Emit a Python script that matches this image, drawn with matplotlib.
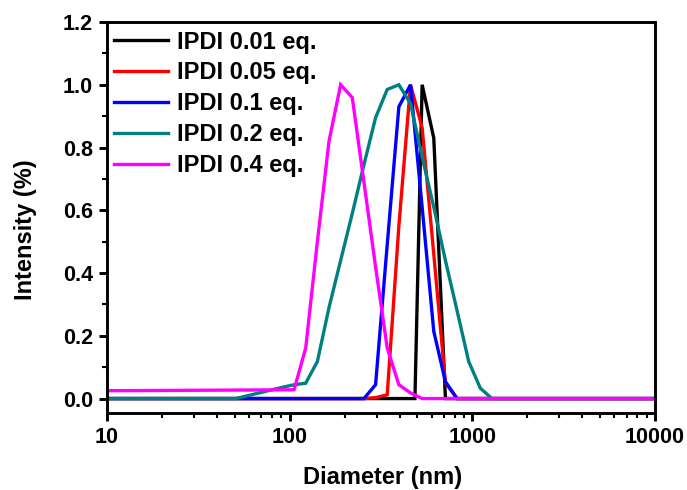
import matplotlib
matplotlib.use("Agg")
import matplotlib.pyplot as plt
from matplotlib.ticker import LogLocator, NullFormatter, MultipleLocator, FixedLocator, FixedFormatter

# ---- data ----
labels = ["IPDI 0.01 eq.", "IPDI 0.05 eq.", "IPDI 0.1 eq.", "IPDI 0.2 eq.", "IPDI 0.4 eq."]
colors = ["#000000", "#ff0000", "#0000ff", "#008080", "#ff00ff"]

x_001 = [10, 485, 531.2, 615.1, 712.4, 10000]
y_001 = [0, 0, 1.0, 0.83, 0, 0]

x_005 = [10, 255.0, 295.3, 342.0, 396.1, 458.7, 531.2, 615.1, 712.4, 825.0, 10000]
y_005 = [0, 0, 0.003, 0.012, 0.55, 1.0, 0.863, 0.46, 0.05, 0, 0]

x_01 = [10, 255.0, 295.3, 342.0, 396.1, 458.7, 531.2, 615.1, 712.4, 825.0, 10000]
y_01 = [0, 0, 0.044, 0.49, 0.93, 1.0, 0.61, 0.214, 0.054, 0, 0]

x_02 = [10, 50.75, 58.77, 68.06, 78.82, 91.28, 105.7, 122.4, 141.8, 164.2, 190.1,
        220.2, 255.0, 295.3, 342.0, 396.1, 458.7, 531.2, 615.1, 712.4, 825.0,
        955.4, 1106, 1281, 10000]
y_02 = [0, 0, 0.009, 0.018, 0.027, 0.036, 0.044, 0.049, 0.118, 0.29, 0.44,
        0.59, 0.745, 0.895, 0.985, 1.0, 0.94, 0.77, 0.61, 0.44, 0.28,
        0.118, 0.033, 0, 0]

x_04 = [10, 105.7, 122.4, 141.8, 164.2, 190.1, 220.2, 255.0, 295.3, 342.0,
        396.1, 458.7, 531.2, 10000]
y_04 = [0.025, 0.028, 0.161, 0.5, 0.82, 1.0, 0.959, 0.69, 0.42, 0.161,
        0.044, 0.018, 0, 0]

xs = [x_001, x_005, x_01, x_02, x_04]
ys = [y_001, y_005, y_01, y_02, y_04]

x_ticks = [10, 100, 1000, 10000]
x_ticklabels = ["10", "100", "1000", "10000"]
y_ticks = [0.0, 0.2, 0.4, 0.6, 0.8, 1.0, 1.2]
y_ticklabels = ["0.0", "0.2", "0.4", "0.6", "0.8", "1.0", "1.2"]

# ---- style ----
plt.rcParams['font.family'] = ['Liberation Sans', 'DejaVu Sans']
plt.rcParams['font.weight'] = 'bold'

fig = plt.figure(figsize=(6.87, 4.9), dpi=100)
ax = fig.add_axes([107/687, 1-413/490, (655-107)/687, (413-22)/490])

for x, y, c, lab in zip(xs, ys, colors, labels):
    ax.plot(x, y, color=c, lw=2.4, label=lab, solid_joinstyle='miter')

ax.set_xscale('log')
ax.set_xlim(10, 10000)
ax.set_ylim(-0.046, 1.2)

ax.xaxis.set_major_locator(FixedLocator(x_ticks))
ax.xaxis.set_major_formatter(FixedFormatter(x_ticklabels))
ax.xaxis.set_minor_locator(LogLocator(base=10, subs=range(2, 10)))
ax.xaxis.set_minor_formatter(NullFormatter())
ax.yaxis.set_major_locator(FixedLocator(y_ticks))
ax.yaxis.set_major_formatter(FixedFormatter(y_ticklabels))
ax.yaxis.set_minor_locator(MultipleLocator(0.1))

for s in ax.spines.values():
    s.set_linewidth(2.1)

ax.tick_params(which='major', direction='out', length=6, width=2.1, labelsize=15.5, pad=4)
ax.tick_params(which='minor', direction='out', length=3.5, width=1.5)
ax.tick_params(top=False, right=False, which='both')
for t in ax.get_xticklabels() + ax.get_yticklabels():
    t.set_fontweight('bold')

ax.set_xlabel("Diameter (nm)", fontsize=17, fontweight='bold')
ax.set_ylabel("Intensity (%)", fontsize=17, fontweight='bold')
ax.xaxis.set_label_coords(0.502, -0.136)
ax.yaxis.set_label_coords(-0.128, 0.47)

leg = ax.legend(loc='upper left', bbox_to_anchor=(0.0, 0.996), frameon=False,
                fontsize=17, handlelength=2.3, handletextpad=0.35,
                labelspacing=0.33, borderaxespad=0.2, borderpad=0.1)
for t in leg.get_texts():
    t.set_fontweight('bold')

fig.savefig("out.png", dpi=100)
